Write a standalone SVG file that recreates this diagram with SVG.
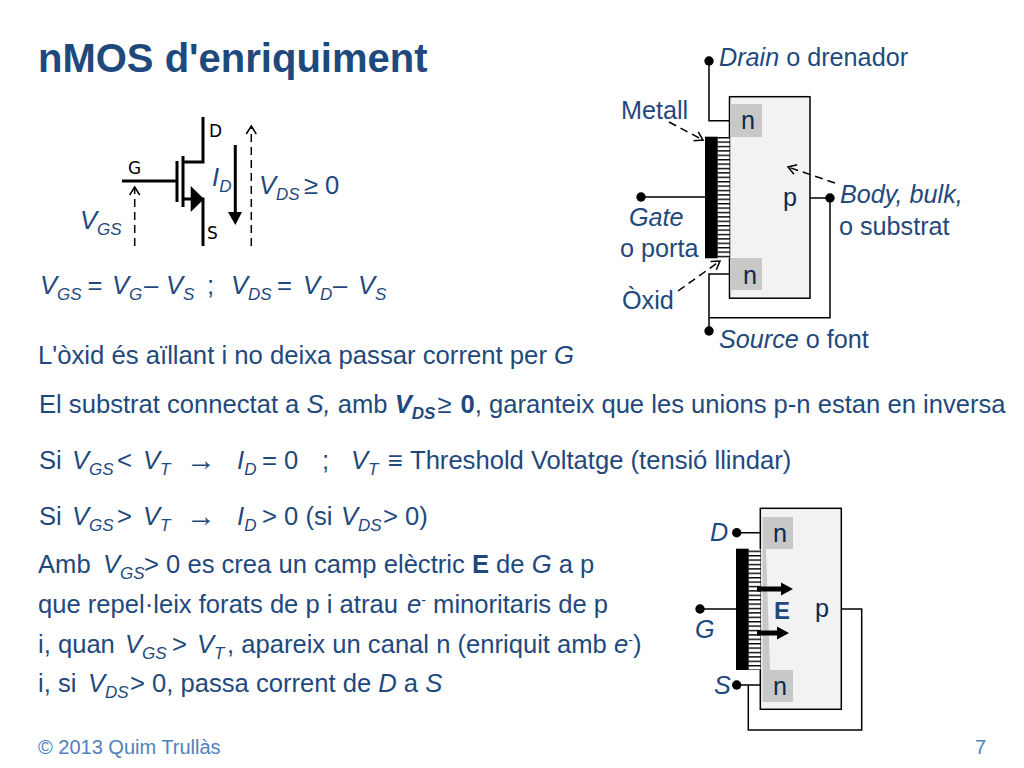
<svg xmlns="http://www.w3.org/2000/svg" width="1024" height="768" viewBox="0 0 1024 768">
<style>
text{font-family:"Liberation Sans",Arial,sans-serif;fill:#1f497d;font-size:25.600px;white-space:pre}
.t{font-size:40px;font-weight:bold}
.i{font-style:italic}
.b{font-weight:bold}
.s{font-size:17px;font-style:italic}
.l{font-size:25.200px}
.a{font-size:30px}
.f{font-size:20px;fill:#4f81bd}
.dk{fill:#0f2a4a}
.k{fill:#000;font-family:"DejaVu Sans",sans-serif;font-size:17px}
.w{fill:none;stroke:#000;stroke-width:1.500}
.th{fill:none;stroke:#000;stroke-width:3}
.d{fill:none;stroke:#000;stroke-width:1.500;stroke-dasharray:8 5}
.body{fill:#f2f2f2;stroke:#000;stroke-width:1.500}
.n{fill:#c8c8c8}
.m{fill:#000}
.ox{fill:url(#st)}
</style>
<defs>
<pattern id="st" width="12" height="4.400" patternUnits="userSpaceOnUse" y="137"><rect width="12" height="4.400" fill="#fff"/><rect width="12" height="1.400" fill="#000"/></pattern>
<marker id="o" markerWidth="12" markerHeight="12" refX="9" refY="6" orient="auto" markerUnits="userSpaceOnUse"><path d="M1 1L9 6L1 11" fill="none" stroke="#000" stroke-width="1.500"/></marker>
</defs>
<rect width="1024" height="768" fill="#fff"/>
<g id="title"><text class="t" x="38" y="72">nMOS d'enriquiment</text></g>

<g id="mosfet-symbol">
<path class="th" d="M203 117V162H183M183 156V207M177 161V202M122 181H177M183 199H203V246"/>
<path class="m" d="M190.700 186L204 199L190.700 212Z"/>
<text class="k" x="209" y="137">D</text><text class="k" x="128" y="174">G</text><text class="k" x="207" y="239">S</text>
</g>
<g id="connectors-symbol">
<path class="th" d="M235.300 145V215"/><path class="m" d="M228 212H242L235.300 225Z"/>
<path class="d" d="M251.300 246V126" marker-end="url(#o)"/>
<path class="d" d="M134.700 246V187" marker-end="url(#o)"/>
</g>
<g id="symbol-labels">
<text class="i" x="212" y="186">I<tspan class="s" dy="6">D</tspan></text>
<text class="i" x="259" y="194">V<tspan class="s" dy="6">DS</tspan></text><text x="304" y="194">≥</text><text x="325" y="194">0</text>
<text class="i" x="80" y="229">V<tspan class="s" dy="6">GS</tspan></text>
<text class="i" x="40" y="294">V<tspan class="s" dy="6">GS</tspan></text><text x="87.500" y="294">=</text><text class="i" x="112" y="294">V<tspan class="s" dy="6">G</tspan></text><text x="144" y="294">–</text><text class="i" x="166" y="294">V<tspan class="s" dy="6">S</tspan></text><text x="207" y="294">;</text>
<text class="i" x="231" y="294">V<tspan class="s" dy="6">DS</tspan></text><text x="277" y="294">=</text><text class="i" x="303" y="294">V<tspan class="s" dy="6">D</tspan></text><text x="333" y="294">–</text><text class="i" x="358" y="294">V<tspan class="s" dy="6">S</tspan></text>
</g>

<g id="device-top">
<rect class="body" x="729.500" y="96.700" width="80.500" height="201.500"/>
<rect class="n" x="730" y="104" width="32" height="33"/>
<rect class="n" x="730" y="258" width="32" height="32"/>
<rect class="ox" x="717.500" y="137" width="12" height="121"/>
<rect class="m" x="705" y="136.700" width="12.700" height="121.600"/>
<path class="w" d="M709 61V120.700H729.500M641 197H705M810 198H830V317.700H709V274H729.500M709 317.700V331"/>
<circle class="m" cx="709" cy="61" r="4.700"/><circle class="m" cx="641" cy="197" r="4.700"/><circle class="m" cx="830" cy="198" r="4.700"/><circle class="m" cx="709" cy="331" r="4.700"/>
<text class="l dk" x="741" y="129">n</text><text class="l dk" x="743" y="284">n</text><text class="l dk" x="783" y="206">p</text>
</g>
<g id="connectors-top">
<path class="d" d="M669 122L703 140" marker-end="url(#o)"/>
<path class="d" d="M835 183L788 167" marker-end="url(#o)"/>
<path class="d" d="M678 291L720 261" marker-end="url(#o)"/>
</g>
<g id="device-top-labels">
<text class="l" x="719" y="66"><tspan class="i">Drain</tspan> o drenador</text>
<text class="l" x="621" y="119">Metall</text>
<text class="l i" x="629" y="226">Gate</text>
<text class="l" x="620" y="257">o porta</text>
<text class="l" x="622" y="309">Òxid</text>
<text class="l" x="719" y="348"><tspan class="i">Source</tspan> o font</text>
<text class="l i" x="840" y="203">Body, bulk,</text>
<text class="l" x="839" y="235">o substrat</text>
</g>

<g id="body-text">
<text style="font-size:25.700px" x="38" y="364">L'òxid és aïllant i no deixa passar corrent per <tspan class="i">G</tspan></text>
<text x="39" y="413">El substrat connectat a <tspan class="i">S,</tspan> amb <tspan class="i b">V</tspan><tspan class="s b" dy="6">DS</tspan><tspan dy="-6" dx="2">≥</tspan><tspan class="b" dx="2"> 0</tspan>, garanteix que les unions p-n estan en inversa</text>
<text x="39" y="469">Si</text><text class="i" x="72" y="469">V<tspan class="s" dy="6">GS</tspan></text><text x="117" y="469">&lt;</text><text class="i" x="143" y="469">V<tspan class="s" dy="6">T</tspan></text><text class="a" x="186" y="470">→</text><text class="i" x="237" y="469">I<tspan class="s" dy="6">D</tspan></text><text x="262" y="469">= 0</text><text x="322" y="469">;</text><text class="i" x="351" y="469">V<tspan class="s" dy="6">T</tspan></text><text x="388" y="469">≡</text><text x="410" y="469">Threshold Voltatge (tensió llindar)</text>
<text x="39" y="525">Si</text><text class="i" x="72" y="525">V<tspan class="s" dy="6">GS</tspan></text><text x="117" y="525">&gt;</text><text class="i" x="143" y="525">V<tspan class="s" dy="6">T</tspan></text><text class="a" x="186" y="526">→</text><text class="i" x="237" y="525">I<tspan class="s" dy="6">D</tspan></text><text x="262" y="525">&gt; 0 (si</text><text class="i" x="341" y="525">V<tspan class="s" dy="6">DS</tspan></text><text x="383" y="525">&gt; 0)</text>
<text x="38" y="573">Amb</text><text class="i" x="103" y="573">V<tspan class="s" dy="6">GS</tspan></text><text x="144" y="573">&gt; 0 es crea un camp elèctric <tspan class="b">E</tspan> de <tspan class="i">G</tspan> a p</text>
<text x="38" y="613">que repel·leix forats de p i atrau <tspan class="i" dx="2">e</tspan><tspan font-size="14" dy="-8">-</tspan><tspan dy="8"> minoritaris de p</tspan></text>
<text x="38" y="653">i, quan</text><text class="i" x="125" y="653">V<tspan class="s" dy="6">GS</tspan></text><text x="172" y="653">&gt;</text><text class="i" x="197" y="653">V<tspan class="s" dy="6">T</tspan></text><text x="227" y="653">, apareix un canal n (enriquit amb <tspan class="i">e</tspan><tspan font-size="14" dy="-8">-</tspan><tspan dy="8">)</tspan></text>
<text x="38" y="692">i, si</text><text class="i" x="88" y="692">V<tspan class="s" dy="6">DS</tspan></text><text x="130" y="692">&gt; 0, passa corrent de <tspan class="i">D</tspan> a <tspan class="i">S</tspan></text>
</g>

<g id="device-bottom">
<rect class="body" x="760.300" y="508.300" width="81" height="201"/>
<path class="n" d="M762.500 517H793V549H766L770 670H793V702H762.500Z"/>
<rect class="ox" x="748.500" y="549" width="12" height="121"/>
<rect class="m" x="736" y="548.700" width="12.700" height="121.300"/>
<path class="w" d="M737 532.700H760.300M700 609H736M737 685H760.300M748.300 685V730H861.700V609H841.300"/>
<circle class="m" cx="736.700" cy="532.700" r="4.700"/><circle class="m" cx="700" cy="609" r="4.700"/><circle class="m" cx="736.700" cy="685" r="4.700"/>
<text class="l dk" x="773" y="542">n</text><text class="l dk" x="773" y="695">n</text><text class="l dk" x="815" y="617">p</text>
</g>
<g id="connectors-bottom">
<path class="m" d="M757 586.500H781V582.500L793 589L781 595.500V591.500H757Z"/>
<path class="m" d="M757 630.500H777V626.500L789 633L777 639.500V635.500H757Z"/>
</g>
<g id="device-bottom-labels">
<text class="b" style="font-size:24px" x="774" y="619">E</text>
<text class="l i" x="710" y="541">D</text><text class="l i" x="695" y="638">G</text><text class="l i" x="714" y="694">S</text>
</g>
<g id="footer"><text class="f" x="38" y="754">© 2013 Quim Trullàs</text><text class="f" x="975" y="754">7</text></g>
</svg>
